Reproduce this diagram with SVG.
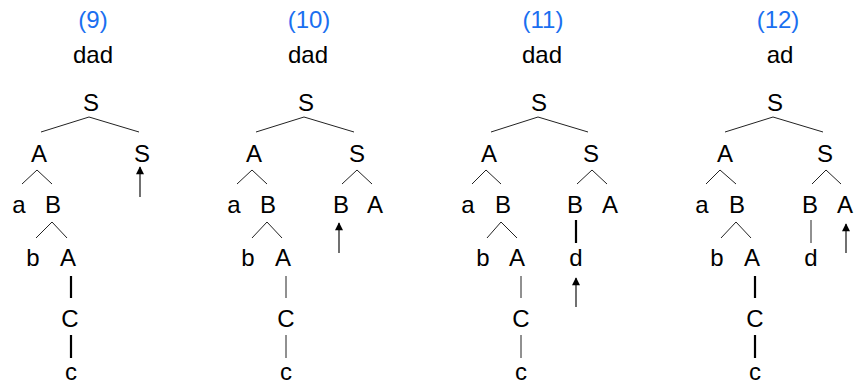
<svg xmlns="http://www.w3.org/2000/svg" width="855" height="387" viewBox="0 0 855 387">
  <style>
    text { font-family: "Liberation Sans", Arial, sans-serif; font-size: 24px; fill: #000; text-anchor: middle; }
    .step { fill: #1a6ff0; }
    .edge { stroke: #222; stroke-width: 1; fill: none; }
    .edge.bold { stroke: #000; stroke-width: 2.2; }
    .cursor { stroke: #111; stroke-width: 1.2; fill: none; marker-end: url(#head); }
  </style>
  <defs>
    <marker id="head" viewBox="0 0 10 10" refX="9" refY="5" markerWidth="9" markerHeight="8" markerUnits="userSpaceOnUse" orient="auto">
      <path d="M0,0 L10,5 L0,10 z" fill="#000"/>
    </marker>
  </defs>

  <!-- step 9 -->
  <g id="p9">
    <text class="step" x="93" y="28">(9)</text>
    <text x="93" y="63">dad</text>
    <g id="p9-S"><text x="91" y="111">S</text></g>
    <g id="p9-A"><text x="39" y="162">A</text></g>
    <g id="p9-S2"><text x="142" y="162">S</text></g>
    <g id="p9-a"><text x="19" y="213">a</text></g>
    <g id="p9-B"><text x="53" y="213">B</text></g>
    <g id="p9-b"><text x="33" y="266">b</text></g>
    <g id="p9-A2"><text x="68" y="266">A</text></g>
    <g id="p9-C"><text x="70" y="327">C</text></g>
    <g id="p9-c"><text x="71" y="380">c</text></g>
  </g>

  <!-- step 10 -->
  <g id="p10">
    <text class="step" x="309" y="28">(10)</text>
    <text x="308" y="63">dad</text>
    <g id="p10-S"><text x="306" y="111">S</text></g>
    <g id="p10-A"><text x="254" y="162">A</text></g>
    <g id="p10-S2"><text x="357" y="162">S</text></g>
    <g id="p10-a"><text x="234" y="213">a</text></g>
    <g id="p10-B"><text x="268" y="213">B</text></g>
    <g id="p10-B2"><text x="341" y="213">B</text></g>
    <g id="p10-A3"><text x="375" y="213">A</text></g>
    <g id="p10-b"><text x="248" y="266">b</text></g>
    <g id="p10-A2"><text x="283" y="266">A</text></g>
    <g id="p10-C"><text x="286" y="327">C</text></g>
    <g id="p10-c"><text x="286" y="380">c</text></g>
  </g>

  <!-- step 11 -->
  <g id="p11">
    <text class="step" x="543" y="28">(11)</text>
    <text x="542" y="63">dad</text>
    <g id="p11-S"><text x="539" y="111">S</text></g>
    <g id="p11-A"><text x="489" y="162">A</text></g>
    <g id="p11-S2"><text x="591" y="162">S</text></g>
    <g id="p11-a"><text x="468" y="213">a</text></g>
    <g id="p11-B"><text x="503" y="213">B</text></g>
    <g id="p11-B2"><text x="575" y="213">B</text></g>
    <g id="p11-A3"><text x="610" y="213">A</text></g>
    <g id="p11-b"><text x="483" y="266">b</text></g>
    <g id="p11-A2"><text x="517" y="266">A</text></g>
    <g id="p11-d"><text x="576" y="266">d</text></g>
    <g id="p11-C"><text x="521" y="327">C</text></g>
    <g id="p11-c"><text x="521" y="380">c</text></g>
  </g>

  <!-- step 12 -->
  <g id="p12">
    <text class="step" x="778" y="28">(12)</text>
    <text x="780" y="63">ad</text>
    <g id="p12-S"><text x="775" y="111">S</text></g>
    <g id="p12-A"><text x="725" y="162">A</text></g>
    <g id="p12-S2"><text x="825" y="162">S</text></g>
    <g id="p12-a"><text x="702" y="213">a</text></g>
    <g id="p12-B"><text x="737" y="213">B</text></g>
    <g id="p12-B2"><text x="810" y="213">B</text></g>
    <g id="p12-A3"><text x="845" y="213">A</text></g>
    <g id="p12-b"><text x="717" y="266">b</text></g>
    <g id="p12-A2"><text x="752" y="266">A</text></g>
    <g id="p12-d"><text x="811" y="266">d</text></g>
    <g id="p12-C"><text x="755" y="327">C</text></g>
    <g id="p12-c"><text x="755" y="380">c</text></g>
  </g>

  <!-- tree edges and read cursors -->
  <g id="connectors">
    <!-- step 9 -->
    <path class="edge" d="M41,132 L89,117 L139,132"/>
    <path class="edge" d="M22,184 L37,170 L52,184"/>
    <path class="edge" d="M36,238 L52,222 L67,238"/>
    <path class="edge bold" d="M71,276 V298"/>
    <path class="edge bold" d="M71,335 V358"/>
    <path class="cursor" d="M140,197 V167"/>

    <!-- step 10 -->
    <path class="edge" d="M256,132 L304,117 L354,132"/>
    <path class="edge" d="M237,184 L252,170 L267,184"/>
    <path class="edge" d="M342,184 L357,170 L372,184"/>
    <path class="edge" d="M252,238 L267,222 L282,238"/>
    <path class="edge" d="M286,276 V298"/>
    <path class="edge" d="M286,335 V358"/>
    <path class="cursor" d="M339,253 V223"/>

    <!-- step 11 -->
    <path class="edge" d="M491,132 L538,117 L588,132"/>
    <path class="edge" d="M472,184 L486,170 L501,184"/>
    <path class="edge" d="M577,184 L592,170 L607,184"/>
    <path class="edge" d="M487,238 L501,222 L517,238"/>
    <path class="edge bold" d="M576,220 V243"/>
    <path class="edge" d="M521,276 V298"/>
    <path class="edge" d="M521,335 V358"/>
    <path class="cursor" d="M576,307 V278"/>

    <!-- step 12 -->
    <path class="edge" d="M725,132 L773,117 L823,132"/>
    <path class="edge" d="M706,184 L720,170 L736,184"/>
    <path class="edge" d="M812,184 L826,170 L841,184"/>
    <path class="edge" d="M721,238 L736,222 L751,238"/>
    <path class="edge" d="M811,220 V243"/>
    <path class="edge bold" d="M755,276 V298"/>
    <path class="edge bold" d="M755,335 V358"/>
    <path class="cursor" d="M846,253 V224"/>
  </g>
</svg>
